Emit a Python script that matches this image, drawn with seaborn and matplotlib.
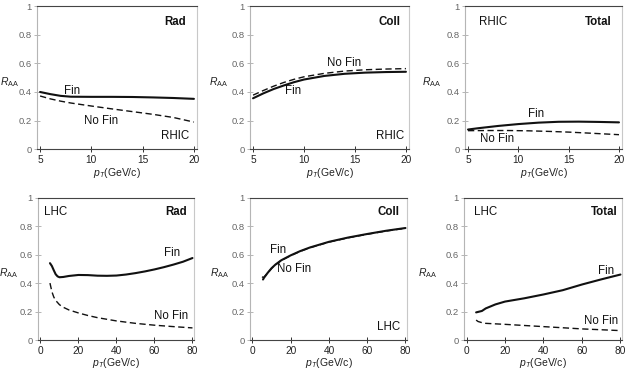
import numpy as np
import pandas as pd
import matplotlib
matplotlib.use("Agg")
import matplotlib.pyplot as plt
import seaborn as sns

# ---------------- data ----------------
# RHIC Rad
rhic_rad_fin_x = [5, 6, 7, 8, 10, 12, 14, 16, 18, 20]
rhic_rad_fin_y = [0.40, 0.385, 0.373, 0.367, 0.366, 0.366, 0.365, 0.362, 0.358, 0.352]
rhic_rad_nofin_x = [5, 6, 7, 8, 10, 12, 14, 16, 18, 20]
rhic_rad_nofin_y = [0.372, 0.352, 0.336, 0.323, 0.302, 0.282, 0.263, 0.244, 0.222, 0.19]
# RHIC Coll
rhic_coll_fin_x = [5, 6, 7, 8, 9, 10, 12, 14, 16, 18, 20]
rhic_coll_fin_y = [0.356, 0.39, 0.42, 0.445, 0.468, 0.487, 0.512, 0.527, 0.535, 0.539, 0.541]
rhic_coll_nofin_x = [5, 6, 7, 8, 9, 10, 12, 14, 16, 18, 20]
rhic_coll_nofin_y = [0.378, 0.41, 0.44, 0.466, 0.488, 0.506, 0.53, 0.546, 0.555, 0.56, 0.563]
# RHIC Total
rhic_tot_fin_x = [5, 6, 7, 8, 10, 12, 14, 16, 18, 20]
rhic_tot_fin_y = [0.138, 0.147, 0.155, 0.163, 0.176, 0.186, 0.192, 0.193, 0.191, 0.188]
rhic_tot_nofin_x = [5, 7, 9, 11, 13, 15, 17, 20]
rhic_tot_nofin_y = [0.13, 0.131, 0.131, 0.129, 0.125, 0.12, 0.113, 0.102]
# LHC Rad
lhc_rad_fin_x = [5, 6, 7, 8, 9, 10, 12, 15, 20, 25, 30, 35, 40, 45, 50, 55, 60, 65, 70, 75, 80]
lhc_rad_fin_y = [0.54, 0.52, 0.49, 0.462, 0.447, 0.441, 0.443, 0.45, 0.457, 0.456, 0.452, 0.451,
                 0.453, 0.46, 0.47, 0.482, 0.496, 0.512, 0.53, 0.55, 0.576]
lhc_rad_nofin_x = [5, 6, 7, 8, 10, 12, 15, 20, 25, 30, 40, 50, 60, 70, 80]
lhc_rad_nofin_y = [0.40, 0.34, 0.302, 0.278, 0.248, 0.23, 0.211, 0.19, 0.172, 0.157, 0.134,
                   0.117, 0.104, 0.094, 0.085]
# LHC Coll
lhc_coll_fin_x = [5.5, 6, 8, 10, 12, 15, 20, 25, 30, 40, 50, 60, 70, 80]
lhc_coll_fin_y = [0.425, 0.437, 0.473, 0.505, 0.53, 0.56, 0.595, 0.625, 0.65, 0.69, 0.72, 0.745,
                  0.768, 0.787]
lhc_coll_nofin_x = [5, 5.5, 6, 8, 10, 12, 15, 20, 25, 30, 40, 50, 60, 70, 80]
lhc_coll_nofin_y = [0.445, 0.44, 0.442, 0.471, 0.503, 0.528, 0.558, 0.593, 0.623, 0.648, 0.688,
                    0.718, 0.743, 0.766, 0.785]
# LHC Total
lhc_tot_fin_x = [5, 8, 10, 15, 20, 30, 40, 50, 60, 70, 80]
lhc_tot_fin_y = [0.194, 0.204, 0.222, 0.25, 0.27, 0.293, 0.32, 0.35, 0.39, 0.426, 0.46]
lhc_tot_nofin_x = [5, 6, 8, 10, 20, 40, 60, 80]
lhc_tot_nofin_y = [0.14, 0.13, 0.122, 0.117, 0.11, 0.094, 0.078, 0.066]

ytick_vals = [0, 0.2, 0.4, 0.6, 0.8, 1]
ytick_labels = ["0", "0.2", "0.4", "0.6", "0.8", "1"]
rhic_xticks = [5, 10, 15, 20]
lhc_xticks = [0, 20, 40, 60, 80]

panels = [
    dict(fin=(rhic_rad_fin_x, rhic_rad_fin_y), nofin=(rhic_rad_nofin_x, rhic_rad_nofin_y),
         xticks=rhic_xticks, xlim=(4.7, 20.3),
         texts=[("Rad", 18.2, 0.89, True), ("Fin", 8.1, 0.41, False),
                ("No Fin", 10.9, 0.20, False), ("RHIC", 18.2, 0.095, False)]),
    dict(fin=(rhic_coll_fin_x, rhic_coll_fin_y), nofin=(rhic_coll_nofin_x, rhic_coll_nofin_y),
         xticks=rhic_xticks, xlim=(4.7, 20.3),
         texts=[("Coll", 18.4, 0.89, True), ("No Fin", 13.9, 0.60, False),
                ("Fin", 8.9, 0.41, False), ("RHIC", 18.4, 0.095, False)]),
    dict(fin=(rhic_tot_fin_x, rhic_tot_fin_y), nofin=(rhic_tot_nofin_x, rhic_tot_nofin_y),
         xticks=rhic_xticks, xlim=(4.7, 20.3),
         texts=[("RHIC", 7.45, 0.89, False), ("Total", 17.9, 0.89, True),
                ("Fin", 11.8, 0.245, False), ("No Fin", 7.9, 0.07, False)]),
    dict(fin=(lhc_rad_fin_x, lhc_rad_fin_y), nofin=(lhc_rad_nofin_x, lhc_rad_nofin_y),
         xticks=lhc_xticks, xlim=(-1.3, 80.8),
         texts=[("LHC", 7.8, 0.90, False), ("Rad", 71.3, 0.90, True),
                ("Fin", 69.2, 0.614, False), ("No Fin", 68.7, 0.169, False)]),
    dict(fin=(lhc_coll_fin_x, lhc_coll_fin_y), nofin=(lhc_coll_nofin_x, lhc_coll_nofin_y),
         xticks=lhc_xticks, xlim=(-1.3, 80.8),
         texts=[("Coll", 71.3, 0.90, True), ("Fin", 13.4, 0.632, False),
                ("No Fin", 21.7, 0.50, False), ("LHC", 71.3, 0.094, False)]),
    dict(fin=(lhc_tot_fin_x, lhc_tot_fin_y), nofin=(lhc_tot_nofin_x, lhc_tot_nofin_y),
         xticks=lhc_xticks, xlim=(-1.3, 80.8),
         texts=[("LHC", 10.0, 0.90, False), ("Total", 71.8, 0.90, True),
                ("Fin", 72.7, 0.485, False), ("No Fin", 70.0, 0.133, False)]),
]

# ---------------- style ----------------
sns.set_theme(style="white")
plt.rcParams["font.family"] = ["Liberation Sans", "DejaVu Sans"]
plt.rcParams["mathtext.fontset"] = "custom"
plt.rcParams["mathtext.it"] = "Liberation Sans:italic"
plt.rcParams["mathtext.rm"] = "Liberation Sans"

fig = plt.figure(figsize=(6.25, 3.7), dpi=100)

W, H = 625.0, 370.0
boxes = [
    (37, 197, 6, 149.3), (250, 409, 6, 149.3), (465, 622, 6, 149.3),
    (38, 194, 197.7, 340), (250, 407, 197.7, 340), (464, 622, 197.7, 340),
]
ylabel_px = [10, 219, 432, 9, 220, 428]

for p, (l, r, t, b), ylx in zip(panels, boxes, ylabel_px):
    ax = fig.add_axes([l / W, 1 - b / H, (r - l) / W, (b - t) / H])
    df = pd.concat([
        pd.DataFrame({"pT": p["fin"][0], "RAA": p["fin"][1], "case": "Fin"}),
        pd.DataFrame({"pT": p["nofin"][0], "RAA": p["nofin"][1], "case": "No Fin"}),
    ])
    sns.lineplot(data=df[df.case == "No Fin"], x="pT", y="RAA", ax=ax, color="#111111",
                 lw=1.0, linestyle=(0, (4.5, 2.5)), legend=False, estimator=None, sort=False)
    sns.lineplot(data=df[df.case == "Fin"], x="pT", y="RAA", ax=ax, color="#111111",
                 lw=1.5, legend=False, estimator=None, sort=False)
    ax.set_xlim(*p["xlim"])
    ax.set_ylim(0, 1)
    ax.set_xticks(p["xticks"])
    ax.set_xticklabels([str(v) for v in p["xticks"]])
    ax.set_yticks(ytick_vals)
    ax.set_yticklabels(ytick_labels)
    ax.tick_params(axis="y", direction="inout", length=4, width=0.6, color="#aaaaaa",
                   labelcolor="#666666", labelsize=6.8, pad=2, left=True)
    ax.tick_params(axis="x", direction="inout", length=5, width=0.7, color="#333333",
                   labelcolor="#222222", labelsize=7.3, pad=1.5, bottom=True)
    for side, col in [("top", "#444444"), ("bottom", "#444444"),
                      ("left", "#b5b5b5"), ("right", "#c8c8c8")]:
        ax.spines[side].set_visible(True)
        ax.spines[side].set_color(col)
        ax.spines[side].set_linewidth(0.8)
    ax.set_xlabel(r"$p_T$(GeV/c)", fontsize=7.5, color="#222222", labelpad=0.5)
    ax.set_ylabel(r"$R_{\rm AA}$", fontsize=7.5, color="#222222", rotation=0,
                  ha="center", va="center")
    ax.yaxis.set_label_coords((ylx - l) / (r - l), 0.47)
    for txt, x, y, bold in p["texts"]:
        ax.text(x, y, txt, ha="center", va="center", fontsize=8.3,
                fontweight="bold" if bold else "normal", color="#111111")

fig.savefig("out.png", dpi=100)
